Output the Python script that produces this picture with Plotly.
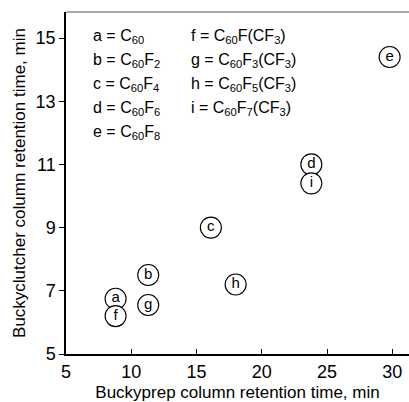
import plotly.graph_objects as go

labels = ["a", "b", "c", "d", "e", "f", "g", "h", "i"]
buckyprep = [8.8, 11.3, 16.1, 23.8, 29.8, 8.8, 11.3, 18.0, 23.8]
buckyclutcher = [6.75, 7.5, 9.0, 11.0, 14.4, 6.2, 6.55, 7.2, 10.4]

legend_col1 = ["a = C<sub>60</sub>", "b = C<sub>60</sub>F<sub>2</sub>", "c = C<sub>60</sub>F<sub>4</sub>",
               "d = C<sub>60</sub>F<sub>6</sub>", "e = C<sub>60</sub>F<sub>8</sub>"]
legend_col2 = ["f = C<sub>60</sub>F(CF<sub>3</sub>)", "g = C<sub>60</sub>F<sub>3</sub>(CF<sub>3</sub>)",
               "h = C<sub>60</sub>F<sub>5</sub>(CF<sub>3</sub>)", "i = C<sub>60</sub>F<sub>7</sub>(CF<sub>3</sub>)"]

x_ticks = [5, 10, 15, 20, 25, 30]
y_ticks = [5, 7, 9, 11, 13, 15]

FONT = "Liberation Sans, Arial, Helvetica, sans-serif"

fig = go.Figure()
fig.add_trace(go.Scatter(
    x=buckyprep, y=buckyclutcher, text=labels,
    mode="markers+text", textposition="middle center",
    marker=dict(symbol="circle", size=21, color="white",
                line=dict(color="black", width=1.1)),
    textfont=dict(family=FONT, size=15, color="black"),
    cliponaxis=False, showlegend=False,
))

W, H = 409, 402
L, T, B, R = 66, 12, 48, 0
pw, ph = W - L - R, H - T - B

def px_to_paper(px, py):
    return (px - L) / pw, 1 - (py - T) / ph

annots = []
rows_y = [36, 60, 84, 108, 132]
for i, txt in enumerate(legend_col1):
    xp, yp = px_to_paper(91, rows_y[i])
    annots.append(dict(x=xp, y=yp, xref="paper", yref="paper", text=txt, showarrow=False,
                       xanchor="left", yanchor="middle", font=dict(family=FONT, size=16, color="black")))
for i, txt in enumerate(legend_col2):
    xp, yp = px_to_paper(189, rows_y[i])
    annots.append(dict(x=xp, y=yp, xref="paper", yref="paper", text=txt, showarrow=False,
                       xanchor="left", yanchor="middle", font=dict(family=FONT, size=16, color="black")))

fig.update_layout(
    width=W, height=H,
    margin=dict(l=L, r=R, t=T, b=B, pad=0),
    plot_bgcolor="white", paper_bgcolor="white",
    font=dict(family=FONT, color="black"),
    annotations=annots,
    shapes=[dict(type="line", xref="paper", yref="paper", x0=0, x1=1, y0=1, y1=1,
                 line=dict(color="#555555", width=1.2))],
    xaxis=dict(
        range=[5, 5 + pw / 13.05], tickvals=x_ticks, ticktext=[str(v) for v in x_ticks],
        ticks="inside", ticklen=5, tickwidth=1, tickcolor="black",
        showline=True, linecolor="black", linewidth=2, showgrid=False, zeroline=False,
        tickfont=dict(family=FONT, size=18, color="black"),
        title=dict(text="Buckyprep column retention time, min", standoff=9,
                   font=dict(family=FONT, size=17, color="black")),
    ),
    yaxis=dict(
        range=[5, 5 + ph / 31.6], tickvals=y_ticks, ticktext=[str(v) for v in y_ticks],
        ticks="outside", ticklen=5, tickwidth=1, tickcolor="black",
        showline=True, linecolor="black", linewidth=1.5, showgrid=False, zeroline=False,
        tickfont=dict(family=FONT, size=18, color="black"),
        title=dict(text="Buckyclutcher column retention time, min", standoff=6,
                   font=dict(family=FONT, size=17, color="black")),
    ),
)

fig.write_html("out.html", config={"displayModeBar": False},
               post_script="document.body.style.margin='0';document.body.style.overflow='hidden';")
